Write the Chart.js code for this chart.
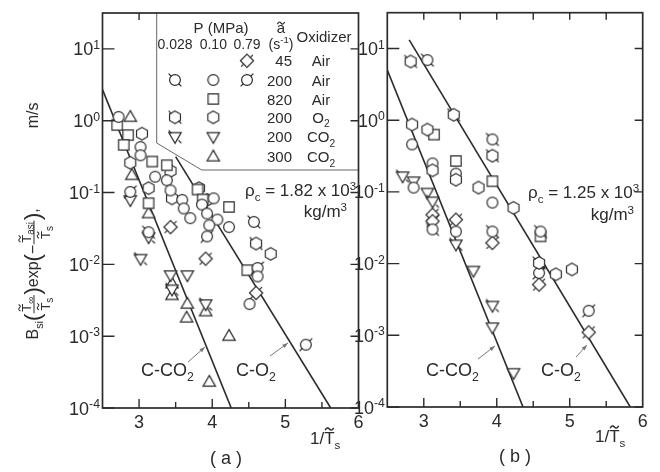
<!DOCTYPE html>
<html lang="en">
<head>
<meta charset="UTF-8">
<title>Carbon oxidation rate vs 1/Ts</title>
<script src="https://cdn.jsdelivr.net/npm/chart.js"></script>
<style>
  body { margin: 0; background: #fff; }
  #wrap { position: relative; width: 660px; height: 472px; overflow: hidden; }
  canvas { position: absolute; top: 0; }
  #chartA { left: 0; }
  #chartB { left: 350px; }
</style>
</head>
<body>
<div id="wrap">
  <canvas id="chartA" width="372" height="472"></canvas>
  <canvas id="chartB" width="310" height="472"></canvas>
</div>
<script>
const INK = '#2b2b2b';
const FONT = '"Liberation Sans", Arial, sans-serif';

// axes
const xRange = [2.5, 6];
const yRange = [1e-4, 31.6];
const xTickValues = [3, 4, 5, 6];
const xMinorValues = [3.5, 4.5, 5.5];
const yTickExps = [1, 0, -1, -2, -3, -4];
const yTickValues = yTickExps.map(e => Math.pow(10, e));

// fitted lines  [1/Ts, rate]
const aLineCO2 = [[2.5, 2.72], [4.26, 0.0001]];
const aLineO2 = [[3.5, 0.316], [5.62, 0.0001]];
const bLineCO2 = [[2.5, 5.0], [4.36, 0.0001]];
const bLineO2 = [[2.8, 13.2], [5.83, 0.0001]];

// panel (a): rho_c = 1.82e3
const aAir200p010 = [[2.72, 1.13], [3.02, 0.43], [3.02, 0.33], [3.22, 0.166], [3.38, 0.148], [3.43, 0.107],
  [3.59, 0.079], [3.61, 0.060], [3.70, 0.044], [3.86, 0.068], [4.02, 0.083], [3.93, 0.051], [4.07, 0.042],
  [3.96, 0.035], [4.23, 0.033], [4.62, 0.0068], [4.51, 0.0028]];
const aAir200p0028 = [[3.13, 0.028], [4.57, 0.039]];
const aAir200p079 = [[2.88, 0.102], [3.93, 0.0245], [4.62, 0.0089], [5.28, 0.00076]];
const aAir45p079 = [[3.43, 0.033], [3.91, 0.012], [4.60, 0.004]];
const aAir820p010 = [[2.70, 0.87], [2.85, 0.63], [2.79, 0.46], [3.18, 0.27], [3.38, 0.24], [3.80, 0.11],
  [3.87, 0.08], [4.23, 0.063], [3.13, 0.071], [4.48, 0.0083]];
const aO2p010 = [[3.04, 0.66], [2.88, 0.26], [3.43, 0.20], [3.13, 0.115], [3.45, 0.083], [3.82, 0.115],
  [3.93, 0.079], [4.80, 0.014]];
const aO2p0028 = [[4.60, 0.0195]];
const aCO2p010 = [[2.88, 0.079], [3.43, 0.0071], [3.66, 0.0071]];
const aCO2p0028 = [[3.13, 0.024], [3.02, 0.012], [3.45, 0.0045], [3.91, 0.0028]];
const aCO2s300 = [[2.88, 1.12], [2.90, 0.174], [3.13, 0.051], [3.45, 0.0054], [3.45, 0.0037], [3.66, 0.0028],
  [3.65, 0.0018], [3.91, 0.0022], [4.23, 0.001], [3.96, 0.00023]];

// panel (b): rho_c = 1.25e3
const bO2p0028 = [[2.82, 6.6], [3.41, 1.19], [3.94, 0.32], [4.58, 0.0102]];
const bAir200p0028 = [[3.05, 6.9], [3.94, 0.54], [3.12, 0.030], [3.94, 0.028], [4.60, 0.028]];
const bO2p010 = [[2.84, 0.87], [3.05, 0.74], [3.12, 0.20], [3.44, 0.148], [3.75, 0.115], [4.23, 0.060],
  [4.81, 0.0071], [5.03, 0.0083]];
const bAir820p010 = [[3.14, 0.63], [3.44, 0.27], [3.94, 0.141], [4.60, 0.024]];
const bAir200p010 = [[2.84, 0.46], [3.12, 0.25], [2.86, 0.115], [3.44, 0.18], [3.94, 0.071], [3.44, 0.028]];
const bAir200p079 = [[4.58, 0.0074], [5.26, 0.0022]];
const bAir45p079 = [[3.12, 0.048], [3.12, 0.039], [3.44, 0.041], [3.94, 0.0195], [4.58, 0.0051], [5.26, 0.0011]];
const bCO2p0028 = [[2.71, 0.166], [3.12, 0.074], [3.44, 0.0186], [3.94, 0.0026]];
const bCO2p010 = [[2.86, 0.141], [3.05, 0.098], [3.68, 0.008], [3.94, 0.0013], [4.23, 0.0003]];

// ---- marker glyphs ----
const POLY = {
  hex: [0, 1, 2, 3, 4, 5].map(k => [6.3 * Math.cos((k * 60 - 90) * Math.PI / 180), 6.3 * Math.sin((k * 60 - 90) * Math.PI / 180)]),
  up: [[0, -6.6], [6.2, 4.2], [-6.2, 4.2]],
  down: [[0, 6.6], [6.2, -4.2], [-6.2, -4.2]],
  diamond: [[0, -6.6], [6.6, 0], [0, 6.6], [-6.6, 0]]
};
function marker(shape, tail) {
  const c = document.createElement('canvas');
  c.width = 24; c.height = 24;
  const g = c.getContext('2d');
  g.translate(12, 12);
  g.lineWidth = 1.2;
  g.strokeStyle = INK;
  g.fillStyle = '#fff';
  g.beginPath();
  if (shape === 'circle') g.arc(0, 0, 5.4, 0, Math.PI * 2);
  else if (shape === 'square') g.rect(-5.2, -5.2, 10.4, 10.4);
  else {
    POLY[shape].forEach(([px, py], i) => i ? g.lineTo(px, py) : g.moveTo(px, py));
    g.closePath();
  }
  g.fill();
  g.stroke();
  if (tail) {
    const vx = Math.SQRT1_2, vy = tail === 'back' ? Math.SQRT1_2 : -Math.SQRT1_2;
    const r1 = shape === 'diamond' ? 4.4 : 5, r2 = r1 + 4;
    g.beginPath();
    g.moveTo(vx * r1, vy * r1); g.lineTo(vx * r2, vy * r2);
    g.moveTo(-vx * r1, -vy * r1); g.lineTo(-vx * r2, -vy * r2);
    g.stroke();
  }
  return c;
}
const M = {
  circle: marker('circle'),
  circleQ: marker('circle', 'back'),
  circleSlash: marker('circle', 'fwd'),
  diamond: marker('diamond', 'fwd'),
  square: marker('square'),
  hex: marker('hex'),
  hexQ: marker('hex', 'back'),
  down: marker('down'),
  downQ: marker('down', 'back'),
  up: marker('up')
};

// ---- text helpers ----
function drawTilde(ctx, cx, cy, w) {
  const h = w * 0.14;
  ctx.save();
  ctx.lineWidth = Math.max(0.9, w * 0.16);
  ctx.beginPath();
  ctx.moveTo(cx - w / 2, cy + h);
  ctx.quadraticCurveTo(cx - w / 4, cy - h * 2.2, cx, cy);
  ctx.quadraticCurveTo(cx + w / 4, cy + h * 2.2, cx + w / 2, cy - h);
  ctx.stroke();
  ctx.restore();
}
function rich(ctx, parts, x, y, size, align, dry) {
  const items = parts.map(p => {
    const o = typeof p === 'string' ? { t: p } : p;
    const s = o.size || (o.sub || o.sup ? size * 0.68 : size);
    ctx.font = `${o.italic ? 'italic ' : ''}${s}px ${FONT}`;
    return Object.assign({}, o, { s, w: ctx.measureText(o.t).width + (o.gap || 0) });
  });
  const total = items.reduce((a, o) => a + o.w, 0);
  if (dry) return total;
  let cx = align === 'center' ? x - total / 2 : align === 'right' ? x - total : x;
  ctx.textAlign = 'left';
  ctx.textBaseline = 'alphabetic';
  for (const o of items) {
    ctx.font = `${o.italic ? 'italic ' : ''}${o.s}px ${FONT}`;
    const dy = (o.dy || 0) + (o.sub ? size * 0.3 : o.sup ? -size * 0.36 : 0);
    ctx.fillText(o.t, cx, y + dy);
    if (o.tilde) {
      const tw = ctx.measureText(o.t[0]).width;
      drawTilde(ctx, cx + tw / 2, y + dy - o.s * (o.t[0] === 'a' ? 0.66 : 0.88), o.s * 0.5);
    }
    cx += o.w;
  }
  return total;
}
function arrow(ctx, x1, y1, x2, y2) {
  ctx.save();
  ctx.strokeStyle = '#777';
  ctx.fillStyle = '#777';
  ctx.lineWidth = 1;
  ctx.beginPath(); ctx.moveTo(x1, y1); ctx.lineTo(x2, y2); ctx.stroke();
  const a = Math.atan2(y2 - y1, x2 - x1);
  ctx.beginPath();
  ctx.moveTo(x2, y2);
  ctx.lineTo(x2 - 6 * Math.cos(a - 0.35), y2 - 6 * Math.sin(a - 0.35));
  ctx.lineTo(x2 - 6 * Math.cos(a + 0.35), y2 - 6 * Math.sin(a + 0.35));
  ctx.closePath(); ctx.fill();
  ctx.restore();
}

// rotated title of panel (a), spanning TITLE_LEN pixels
const TITLE_LEN = 237;
function drawYTitle(ctx, bx, cy) {
  const S = 16, f = 13;
  const T = { t: 'T', tilde: true, size: f };
  const seq = [
    { parts: ['B', { t: 'si', sub: true }] },
    { parts: [{ t: '(', size: 22, dy: 2 }] },
    { frac: [[T, { t: '∞', size: 10, dy: 3 }], [T, { t: 's', size: 10, dy: 3 }]] },
    { parts: [{ t: ')', size: 22, dy: 2 }, 'exp', { t: '(', size: 22, dy: 2 }, '−'] },
    { frac: [[T, { t: 'asi', size: 10, dy: 3 }], [T, { t: 's', size: 10, dy: 3 }]] },
    { parts: [{ t: ')', size: 22, dy: 2 }, ','] },
    { gap: true },
    { parts: ['m/s'] }
  ];
  const widths = seq.map(s => s.gap ? 0 : s.frac
    ? Math.max(rich(ctx, s.frac[0], 0, 0, f, 'left', true), rich(ctx, s.frac[1], 0, 0, f, 'left', true)) + 4
    : rich(ctx, s.parts, 0, 0, S, 'left', true));
  const used = widths.reduce((a, b) => a + b, 0);
  widths[seq.findIndex(s => s.gap)] = Math.max(12, TITLE_LEN - used);
  const W = widths.reduce((a, b) => a + b, 0);
  ctx.save();
  ctx.translate(bx, cy);
  ctx.rotate(-Math.PI / 2);
  let u = -W / 2;
  seq.forEach((s, i) => {
    if (s.frac) {
      const mid = u + widths[i] / 2;
      rich(ctx, s.frac[0], mid, -7, f, 'center');
      rich(ctx, s.frac[1], mid, 11.5, f, 'center');
      ctx.lineWidth = 1;
      ctx.beginPath(); ctx.moveTo(u + 0.5, -4); ctx.lineTo(u + widths[i] - 0.5, -4); ctx.stroke();
    } else if (s.parts) {
      rich(ctx, s.parts, u, 0, S, 'left');
    }
    u += widths[i];
  });
  ctx.restore();
}

// legend of panel (a)
const LEG = { left: 156.7, cutY: 143, cutX: 201.7, bottom: 170 };
const legendCols = [175, 213.3, 247];
const legendRows = [
  { y: 60.7, marks: [null, null, M.diamond], num: '45', ox: ['Air'] },
  { y: 80, marks: [M.circleQ, M.circle, M.circleSlash], num: '200', ox: ['Air'] },
  { y: 99, marks: [null, M.square, null], num: '820', ox: ['Air'] },
  { y: 117.3, marks: [M.hexQ, M.hex, null], num: '200', ox: ['O', { t: '2', sub: true }] },
  { y: 136.7, marks: [M.downQ, M.down, null], num: '200', ox: ['CO', { t: '2', sub: true }] },
  { y: 156.7, marks: [null, M.up, null], num: '300', ox: ['CO', { t: '2', sub: true }] }
];
function drawLegend(ctx, a) {
  ctx.save();
  ctx.fillStyle = '#fff';
  ctx.beginPath();
  ctx.moveTo(LEG.left, a.top);
  ctx.lineTo(LEG.left, LEG.cutY);
  ctx.lineTo(LEG.cutX, LEG.bottom);
  ctx.lineTo(a.right, LEG.bottom);
  ctx.lineTo(a.right, a.top);
  ctx.closePath();
  ctx.fill();
  ctx.strokeStyle = '#666';
  ctx.lineWidth = 1;
  ctx.beginPath();
  ctx.moveTo(LEG.left, a.top);
  ctx.lineTo(LEG.left, LEG.cutY);
  ctx.lineTo(LEG.cutX, LEG.bottom);
  ctx.lineTo(a.right, LEG.bottom);
  ctx.stroke();
  ctx.fillStyle = INK;
  ctx.strokeStyle = INK;
  rich(ctx, ['P (MPa)'], 221, 33, 15, 'center');
  rich(ctx, ['0.028'], legendCols[0], 48.5, 14, 'center');
  rich(ctx, ['0.10'], legendCols[1], 48.5, 14, 'center');
  rich(ctx, ['0.79'], legendCols[2], 48.5, 14, 'center');
  rich(ctx, [{ t: 'a', tilde: true }], 281, 33, 15, 'center');
  rich(ctx, ['(s', { t: '-1', sup: true }, ')'], 281, 48.5, 14, 'center');
  rich(ctx, ['Oxidizer'], 324, 41.5, 15, 'center');
  for (const r of legendRows) {
    r.marks.forEach((m, i) => { if (m) ctx.drawImage(m, legendCols[i] - 12, r.y - 12); });
    rich(ctx, [r.num], 292, r.y + 5.5, 15, 'right');
    rich(ctx, r.ox, 321, r.y + 5.5, 15, 'center');
  }
  ctx.restore();
}

function decoPlugin(panel) {
  return {
    id: 'deco' + panel.name,
    afterDraw(chart) {
      const { ctx, chartArea: a, scales: { x, y } } = chart;
      ctx.save();
      ctx.fillStyle = INK;
      ctx.strokeStyle = INK;
      if (panel.legend) drawLegend(ctx, a);
      ctx.lineWidth = 1.7;
      ctx.strokeRect(a.left, a.top, a.right - a.left, a.bottom - a.top);
      ctx.lineWidth = 1.4;
      ctx.beginPath();
      for (const v of xTickValues.concat(xMinorValues)) {
        if (v >= xRange[1]) continue;
        const px = x.getPixelForValue(v);
        const major = xTickValues.includes(v);
        ctx.moveTo(px, a.bottom); ctx.lineTo(px, a.bottom - (major ? 9 : 6));
        if (!panel.legend || px < LEG.left) { ctx.moveTo(px, a.top); ctx.lineTo(px, a.top + 7); }
      }
      for (const v of yTickValues) {
        const py = y.getPixelForValue(v);
        ctx.moveTo(a.left, py); ctx.lineTo(a.left + 12, py);
        ctx.moveTo(a.right, py); ctx.lineTo(a.right - 8, py);
      }
      ctx.stroke();
      // decade labels
      yTickExps.forEach((e, i) => {
        const py = y.getPixelForValue(yTickValues[i]);
        rich(ctx, ['10', { t: String(e), sup: true }], a.left - 2.5, py + 6.5, 18, 'right');
      });
      // x title and panel tag
      const tx = panel.xTitle;
      rich(ctx, ['1/', { t: 'T', tilde: true }, { t: 's', sub: true }], tx[0], tx[1], 17, 'left');
      rich(ctx, [panel.tag], panel.tagPos[0], panel.tagPos[1], 18, 'center');
      // density
      const d = panel.rho;
      rich(ctx, ['ρ', { t: 'c', sub: true }, ' = ' + d.text + ' x 10', { t: '3', sup: true }], d.x, d.y, 17, 'left');
      rich(ctx, ['kg/m', { t: '3', sup: true }], d.kx, d.ky, 17, 'right');
      // line labels
      for (const l of panel.lineLabels) {
        rich(ctx, l.parts, l.x, l.y, 18, 'left');
        arrow(ctx, l.ax[0], l.ax[1], l.ax[2], l.ax[3]);
      }
      if (panel.yTitle) drawYTitle(ctx, 38, 221);
      if (panel.fig) rich(ctx, [{ t: 'Fig.', italic: true }], 637, 469, 13, 'left');
      ctx.restore();
    }
  };
}

const pts = arr => arr.map(([x, y]) => ({ x, y }));
function lineSet(arr) {
  return { type: 'line', data: pts(arr), borderColor: INK, borderWidth: 1.6, pointRadius: 0,
    showLine: true, fill: false, order: 5 };
}
function markSet(arr, style) {
  return { type: 'scatter', data: pts(arr), pointStyle: style, pointRadius: 6, order: 1 };
}
function makeChart(id, datasets, box, panel) {
  return new Chart(document.getElementById(id), {
    type: 'scatter',
    data: { datasets },
    options: {
      responsive: false,
      animation: false,
      events: [],
      layout: { padding: { top: box.top, right: box.right, left: 0, bottom: 0 } },
      plugins: { legend: { display: false }, tooltip: { enabled: false } },
      scales: {
        x: {
          type: 'linear', min: xRange[0], max: xRange[1],
          afterBuildTicks: s => { s.ticks = xTickValues.map(v => ({ value: v })); },
          afterFit: s => { s.height = box.xh; },
          grid: { display: false, drawTicks: false },
          border: { display: false },
          ticks: { color: INK, font: { family: FONT, size: 18 }, padding: 4, autoSkip: false, maxRotation: 0,
            callback: v => String(v) }
        },
        y: {
          type: 'logarithmic', min: yRange[0], max: yRange[1],
          afterBuildTicks: s => { s.ticks = yTickValues.map(v => ({ value: v })); },
          afterFit: s => { s.width = box.yw; },
          grid: { display: false, drawTicks: false },
          border: { display: false },
          ticks: { display: false }
        }
      }
    },
    plugins: [decoPlugin(panel)]
  });
}

makeChart('chartA', [
  markSet(aAir200p010, M.circle), markSet(aAir200p0028, M.circleQ), markSet(aAir200p079, M.circleSlash),
  markSet(aAir45p079, M.diamond), markSet(aAir820p010, M.square), markSet(aO2p010, M.hex),
  markSet(aO2p0028, M.hexQ), markSet(aCO2p010, M.down), markSet(aCO2p0028, M.downQ), markSet(aCO2s300, M.up),
  lineSet(aLineCO2), lineSet(aLineO2)
], { top: 13, right: 13.5, xh: 64, yw: 102.5 }, {
  name: 'A', legend: true, yTitle: true, tag: '( a )', tagPos: [226, 464], xTitle: [310, 444],
  rho: { text: '1.82', x: 245, y: 196, kx: 347, ky: 217 },
  lineLabels: [
    { parts: ['C-CO', { t: '2', sub: true }], x: 141, y: 376, ax: [188, 362, 205, 347] },
    { parts: ['C-O', { t: '2', sub: true }], x: 236, y: 376, ax: [270, 356, 288, 343] }
  ]
});

makeChart('chartB', [
  markSet(bO2p0028, M.hexQ), markSet(bAir200p0028, M.circleQ), markSet(bO2p010, M.hex),
  markSet(bAir820p010, M.square), markSet(bAir200p010, M.circle), markSet(bAir200p079, M.circleSlash),
  markSet(bAir45p079, M.diamond), markSet(bCO2p0028, M.downQ), markSet(bCO2p010, M.down),
  lineSet(bLineCO2), lineSet(bLineO2)
], { top: 12.7, right: 17.3, xh: 65, yw: 37.3 }, {
  name: 'B', legend: false, yTitle: false, fig: true, tag: '( b )', tagPos: [165, 462], xTitle: [245, 442],
  rho: { text: '1.25', x: 178, y: 198, kx: 284, ky: 220 },
  lineLabels: [
    { parts: ['C-CO', { t: '2', sub: true }], x: 76, y: 376, ax: [128, 359, 145, 346] },
    { parts: ['C-O', { t: '2', sub: true }], x: 191, y: 376, ax: [226, 357, 237, 345] }
  ]
});
</script>
</body>
</html>
